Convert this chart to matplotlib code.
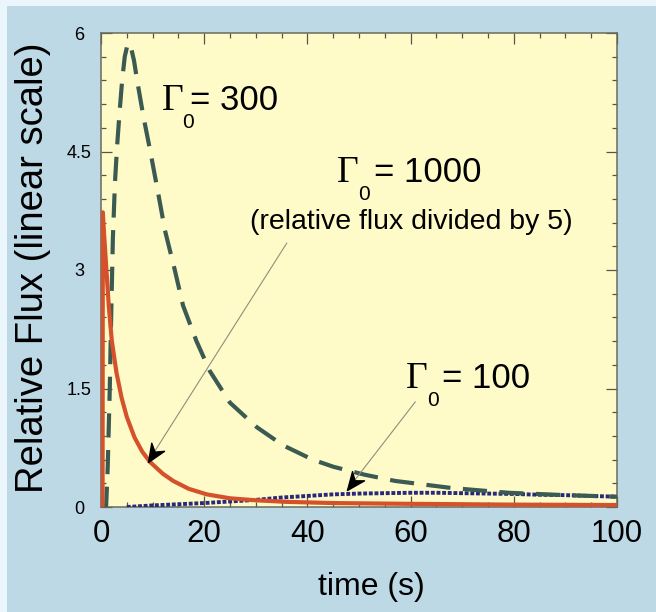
import matplotlib
matplotlib.use("Agg")
import numpy as np
import matplotlib.pyplot as plt
from matplotlib.patches import Rectangle
from matplotlib.path import Path
from matplotlib.markers import MarkerStyle
from matplotlib.transforms import Affine2D, offset_copy
from matplotlib.ticker import MultipleLocator

plt.rcParams['font.family'] = ['Liberation Sans', 'DejaVu Sans']

# Light curves: relative flux vs time for three initial Lorentz factors
t_1000 = [0, 0.3, 0.35, 0.6, 1.0, 1.5, 2.1, 3.0, 4.0, 5.0, 6.5, 8.0, 9.5, 12, 14, 17,
          20.5, 25, 30, 36, 45, 60, 80, 100]
flux_1000 = [0, 0, 3.73, 3.45, 3.05, 2.55, 2.1, 1.7, 1.38, 1.14, 0.88, 0.7, 0.57, 0.42,
             0.33, 0.23, 0.16, 0.11, 0.085, 0.065, 0.05, 0.04, 0.03, 0.025]

t_300 = [0, 1.0, 1.3, 1.7, 2.0, 2.3, 2.7, 3.1, 3.6, 4.1, 4.6, 5.2, 5.8, 6.4, 7.0, 8.2,
         9.5, 11, 12.4, 14.3, 15.9, 18.5, 21.1, 25, 30.2, 35.3, 41, 45, 51, 57, 68,
         79, 90, 100]
flux_300 = [0, 0.02, 0.5, 1.5, 2.5, 3.4, 4.1, 4.55, 5.0, 5.4, 5.7, 5.87, 5.82, 5.65,
            5.4, 4.95, 4.52, 4.0, 3.5, 3.0, 2.55, 2.1, 1.72, 1.32, 1.01, 0.78, 0.6,
            0.51, 0.41, 0.33, 0.24, 0.18, 0.15, 0.13]

t_100 = [5, 10, 15, 20, 25, 30, 35, 40, 45, 50, 55, 60, 65, 70, 75, 80, 85, 90, 95, 100]
flux_100 = [0.0, 0.02, 0.035, 0.05, 0.07, 0.09, 0.12, 0.14, 0.16, 0.17, 0.175, 0.18,
            0.18, 0.175, 0.17, 0.165, 0.155, 0.15, 0.14, 0.13]

x_ticks = [0, 20, 40, 60, 80, 100]
y_ticks = [0, 1.5, 3, 4.5, 6]
y_tick_labels = ['0', '1.5', '3', '4.5', '6']

W, H = 656, 612
fig = plt.figure(figsize=(W / 100, H / 100), dpi=100)
fig.patch.set_facecolor('#bcd9e5')
fig.patches.append(Rectangle((0, 1 - 6 / H), 1, 6 / H, transform=fig.transFigure,
                             facecolor='#eaf6fb', edgecolor='none', zorder=0))
fig.patches.append(Rectangle((0, 0), 7 / W, 1, transform=fig.transFigure,
                             facecolor='#eaf6fb', edgecolor='none', zorder=0))

ax = fig.add_axes([101 / W, 1 - 507 / H, 516 / W, 474 / H])
ax.set_facecolor('#fffbc9')
ax.set_xlim(0, 100)
ax.set_ylim(0, 6)

# curves
ax.plot(t_100, flux_100, color='#28297a', lw=2.8, dashes=(1.0, 0.45),
        dash_capstyle='butt', zorder=3)
ax.plot(t_300, flux_300, color='#3b5a52', lw=3.0, dashes=(5.8, 3.0),
        dash_capstyle='butt', zorder=3)
ax.plot(t_1000, flux_1000, color='#d4512b', lw=3.0, zorder=4)

# axes styling
for s in ax.spines.values():
    s.set_color('#6b6b5c')
    s.set_linewidth(1.1)
ax.set_xticks(x_ticks)
ax.set_yticks(y_ticks)
ax.set_yticklabels(y_tick_labels, ha='center')
ax.xaxis.set_minor_locator(MultipleLocator(5))
ax.yaxis.set_minor_locator(MultipleLocator(0.3))
ax.tick_params(which='both', direction='in', top=True, right=True, color='#555548',
               width=0.9)
ax.tick_params(which='major', length=8)
ax.tick_params(which='minor', length=3.6)
ax.tick_params(axis='x', which='major', labelsize=22.5, pad=9)
ax.tick_params(axis='y', which='major', labelsize=13, pad=15.5)

ax.set_xlabel('time (s)', fontsize=23, va='center')
ax.xaxis.set_label_coords((371 - 101) / 516, -(587 - 507) / 474)
ax.set_ylabel('Relative Flux (linear scale)', fontsize=27.5, va='center')
ax.yaxis.set_label_coords(-(101 - 33) / 516, (507 - 268) / 474)


def gamma_label(x, y, value, sub_dx, eq_dx):
    ax.text(x, y, 'Γ', fontfamily=['Liberation Serif', 'DejaVu Serif'], fontsize=27,
            ha='left', va='baseline', zorder=6)
    ax.text(x, y, '0', fontsize=15, ha='left', va='baseline', zorder=6,
            transform=offset_copy(ax.transData, fig=fig, x=sub_dx, y=-13, units='points'))
    ax.text(x, y, '= ' + value, fontsize=25, ha='left', va='baseline', zorder=6,
            transform=offset_copy(ax.transData, fig=fig, x=eq_dx, y=0, units='points'))


gamma_label(11.8, 5.03, '300', 14.4, 20.5)
gamma_label(45.7, 4.11, '1000', 15.5, 27)
gamma_label(59.1, 1.51, '100', 15.5, 26)
ax.text(28.9, 3.52, '(relative flux divided by 5)', fontsize=20.5, ha='left',
        va='baseline', zorder=6)

# pointer arrows
head = Path([(0, 0), (-1, 0.42), (-0.68, 0), (-1, -0.42), (0, 0)],
            [Path.MOVETO, Path.LINETO, Path.LINETO, Path.LINETO, Path.CLOSEPOLY])


def pointer(start, tip):
    ax.plot([start[0], tip[0]], [start[1], tip[1]], color='#8f8f78', lw=0.8, zorder=5)
    p0 = ax.transData.transform(start)
    p1 = ax.transData.transform(tip)
    ang = np.degrees(np.arctan2(p1[1] - p0[1], p1[0] - p0[0]))
    ax.plot([tip[0]], [tip[1]], lw=0, color='black', zorder=6, markersize=26,
            marker=MarkerStyle(head, transform=Affine2D().rotate_deg(ang)))


pointer((36.0, 3.34), (9.1, 0.57))
pointer((60.9, 1.33), (47.7, 0.215))

fig.savefig('out.png', dpi=100, facecolor=fig.get_facecolor())
